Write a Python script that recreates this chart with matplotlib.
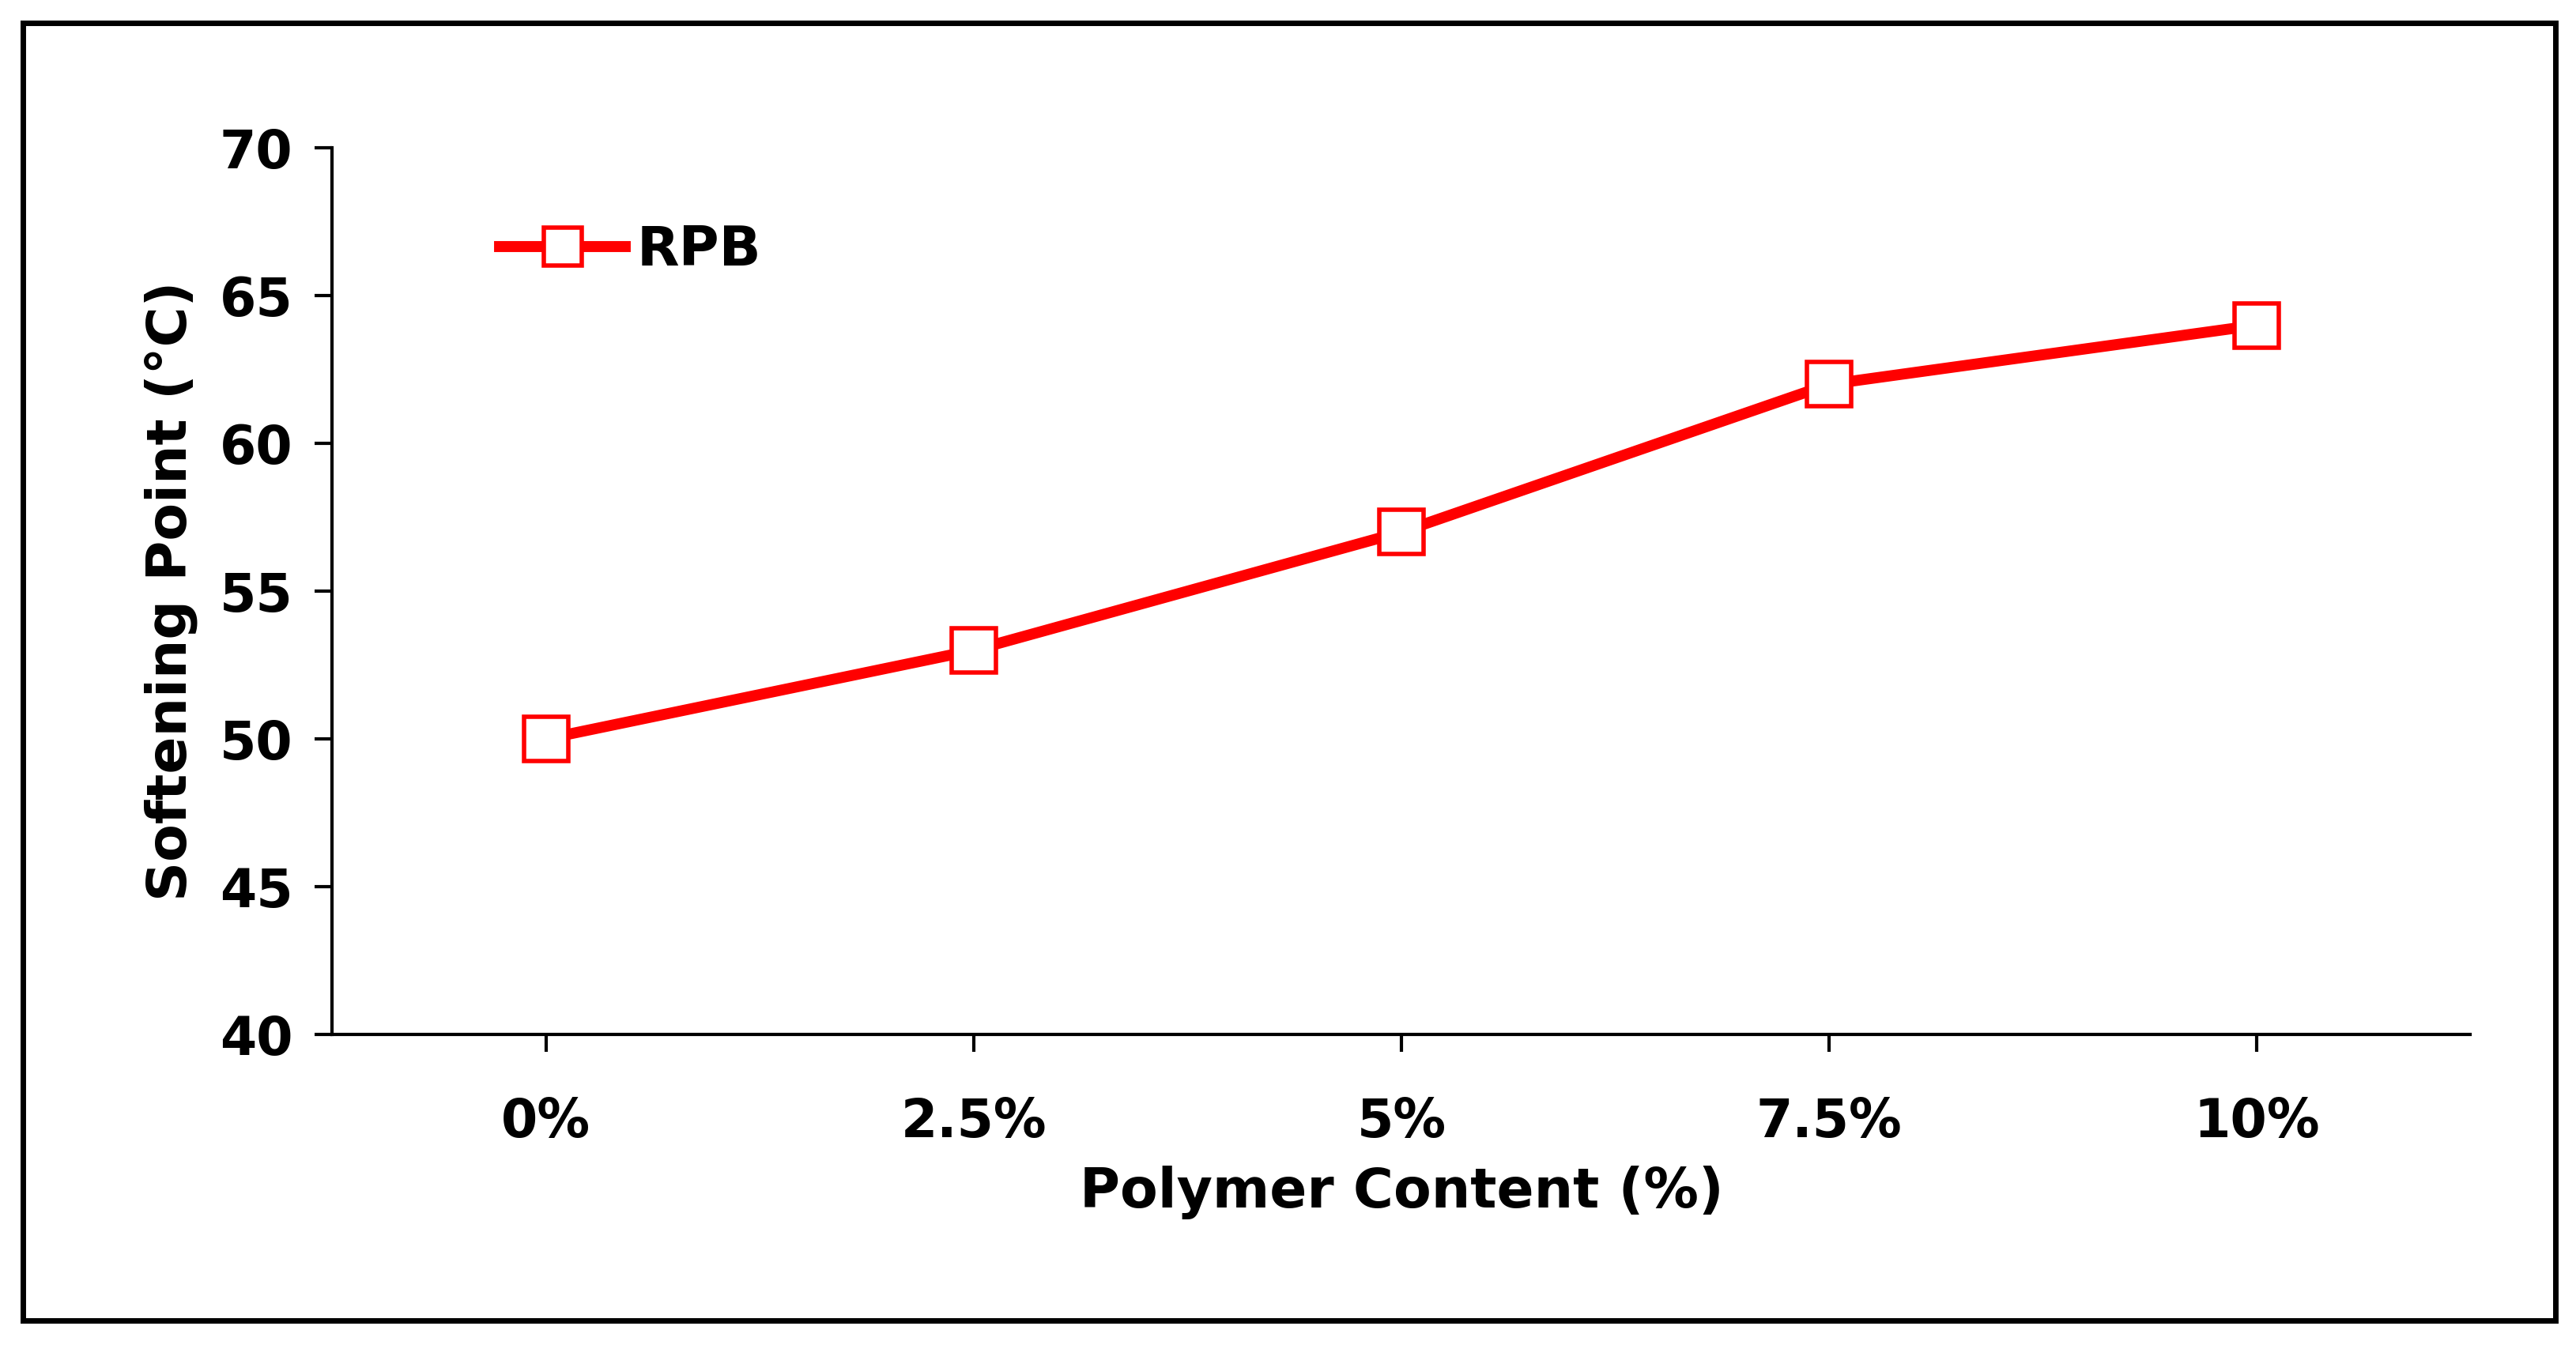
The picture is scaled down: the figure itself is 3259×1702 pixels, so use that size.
import matplotlib.pyplot as plt
from matplotlib.patches import Rectangle

categories = ['0%', '2.5%', '5%', '7.5%', '10%']
softening_point = [50, 53, 57, 62, 64]
y_ticks = [40, 45, 50, 55, 60, 65, 70]

plt.rcParams['font.family'] = 'DejaVu Sans'
plt.rcParams['font.weight'] = 'bold'

fig = plt.figure(figsize=(16.295, 8.51), dpi=200)
ax = fig.add_axes([0.129, 0.231, 0.830, 0.659])

x = range(len(categories))
ax.plot(x, softening_point, color='#ff0000', lw=5, marker='s', ms=20,
        mfc='white', mec='#ff0000', mew=2, label='RPB')

ax.set_xlim(-0.5, len(categories) - 0.5)
ax.set_ylim(40, 70)
ax.set_xticks(list(x))
ax.set_xticklabels(categories, fontsize=24, fontweight='bold')
ax.set_yticks(y_ticks)
ax.set_yticklabels([str(v) for v in y_ticks], fontsize=24, fontweight='bold')
ax.tick_params(axis='x', direction='out', length=8, width=1.5, pad=20)
ax.tick_params(axis='y', direction='out', length=8, width=1.5, pad=10)

for s in ['top', 'right']:
    ax.spines[s].set_visible(False)
for s in ['left', 'bottom']:
    ax.spines[s].set_linewidth(1.5)

ax.set_xlabel('Polymer Content (%)', fontsize=25, fontweight='bold', labelpad=8)
ax.set_ylabel('Softening Point (°C)', fontsize=25, fontweight='bold', labelpad=10)

ax.legend(loc='upper left', bbox_to_anchor=(0.055, 0.97), frameon=False,
          fontsize=25, handlelength=2.3, handletextpad=0.2, markerscale=0.85)

fig.patches.append(Rectangle((0.009, 0.018), 0.983, 0.965, transform=fig.transFigure,
                             fill=False, edgecolor='black', lw=2.5))

fig.savefig('out.png', dpi=200, facecolor='white')
